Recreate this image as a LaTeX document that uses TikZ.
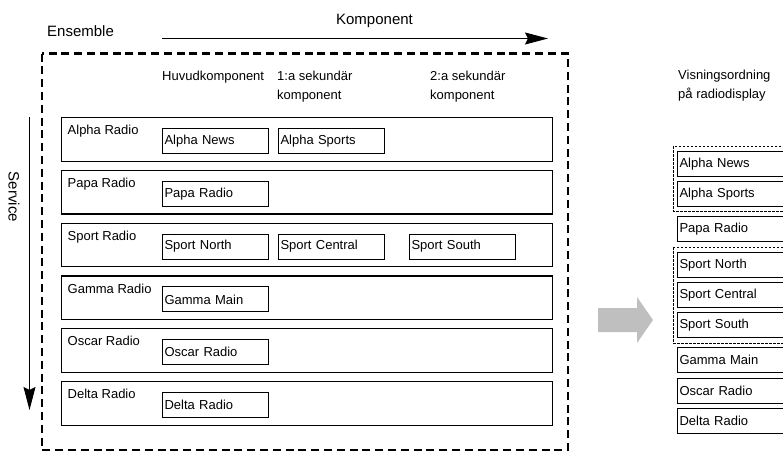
\documentclass[tikz,border=0pt]{standalone}
\usepackage{fontspec}
\setmainfont{Liberation Sans}
\usetikzlibrary{arrows.meta}
\begin{document}
\begin{tikzpicture}[x=1pt,y=-1pt,
  every node/.style={font=\fontsize{13}{19.3}\selectfont, inner sep=0pt},
  title/.style={font=\fontsize{15}{17}\selectfont},
  axis/.style={line width=1pt, -{Stealth[length=23pt,width=12pt,inset=3pt]}},
  outerbox/.style={draw, line width=2.2pt, dash pattern=on 8pt off 4.8pt},
  rowbox/.style={draw, line width=1.2pt, minimum width=491pt, minimum height=43.5pt, anchor=north west},
  rowlabel/.style={anchor=base west},
  compbox/.style={draw, line width=1pt, minimum width=106pt, minimum height=25pt, anchor=north west, text width=102pt, inner xsep=2pt, align=left},
  listbox/.style={draw, line width=1.1pt, minimum width=130pt, minimum height=25pt, anchor=north west, text width=126pt, inner xsep=2pt, align=left},
  groupbox/.style={draw, line width=0.8pt, dash pattern=on 2.5pt off 1.5pt},
  header/.style={anchor=north west, align=left}
]
\useasboundingbox (0,0) rectangle (783,452);

% titles and axes
\node[title, anchor=base] (komp) at (374.5,24.5) {Komponent};
\node[title, anchor=base west] (ens) at (47,37) {Ensemble};
\coordinate (ka) at (162,38.5);
\coordinate (kb) at (548,38.5);
\draw[axis] (ka) -- (kb);
\node[title, rotate=-90] (serv) at (14,197) {Service};
\coordinate (sa) at (29.5,117);
\coordinate (sb) at (29.5,410);
\draw[axis] (sa) -- (sb);

% ensemble dashed frame
\draw[outerbox] (42,53.5) rectangle (568,450);

% column headers
\node[header] (h1) at (162,70.8) {Huvudkomponent};
\node[header] (h2) at (277,70.8) {1:a sekundär\\komponent};
\node[header] (h3) at (430,70.8) {2:a sekundär\\komponent};

% service rows
\node[rowbox] (r1) at (61,117) {};
\node[rowbox] (r2) at (61,169.8) {};
\node[rowbox] (r3) at (61,222.6) {};
\node[rowbox] (r4) at (61,275.4) {};
\node[rowbox] (r5) at (61,328.2) {};
\node[rowbox] (r6) at (61,381) {};

\node[rowlabel] (l1) at (67.5,134.7) {Alpha Radio};
\node[rowlabel] (l2) at (67.5,187.5) {Papa Radio};
\node[rowlabel] (l3) at (67.5,240.3) {Sport Radio};
\node[rowlabel] (l4) at (67.5,293.1) {Gamma Radio};
\node[rowlabel] (l5) at (67.5,345.9) {Oscar Radio};
\node[rowlabel] (l6) at (67.5,398.7) {Delta Radio};

\node[compbox] (c11) at (162,128) {Alpha News};
\node[compbox] (c12) at (278,128) {Alpha Sports};
\node[compbox] (c21) at (162,180.8) {Papa Radio};
\node[compbox] (c31) at (162,233.6) {Sport North};
\node[compbox] (c32) at (278,233.6) {Sport Central};
\node[compbox] (c33) at (409,233.6) {Sport South};
\node[compbox] (c41) at (162,286.4) {Gamma Main};
\node[compbox] (c51) at (162,339.2) {Oscar Radio};
\node[compbox] (c61) at (162,392) {Delta Radio};

% grey arrow
\fill[fill={rgb,255:red,191;green,191;blue,191}] (598,308) -- (637,308) -- (637,297) -- (653,320) -- (637,343) -- (637,332) -- (598,332) -- cycle;

% display order
\node[header] (vis) at (678,70) {Visningsordning\\på radiodisplay};
\begin{scope}
\clip (0,0) rectangle (783,452);
\draw[groupbox] (673,146) rectangle (800,211);
\draw[groupbox] (673,247) rectangle (800,343);
\node[listbox] (d1) at (677,151) {Alpha News};
\node[listbox] (d2) at (677,181) {Alpha Sports};
\node[listbox] (d3) at (677,216) {Papa Radio};
\node[listbox] (d4) at (677,252) {Sport North};
\node[listbox] (d5) at (677,282) {Sport Central};
\node[listbox] (d6) at (677,312) {Sport South};
\node[listbox] (d7) at (677,347) {Gamma Main};
\node[listbox] (d8) at (677,378) {Oscar Radio};
\node[listbox] (d9) at (677,408) {Delta Radio};
\end{scope}
\end{tikzpicture}
\end{document}
